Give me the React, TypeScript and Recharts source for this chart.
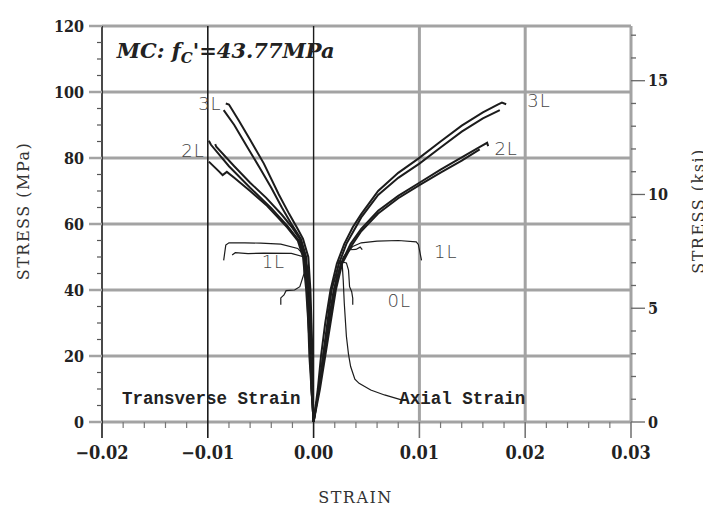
import React from 'react';
import { ComposedChart, Line, XAxis, YAxis, ReferenceLine, ReferenceDot } from 'recharts';

/* -------------------------------------------------------
   DATA  (strain, stress MPa)
-------------------------------------------------------- */
type Pair = [number, number];

// axial strain side
const axial3La: Pair[] = [[0, 0], [0.0004, 10], [0.0007, 20], [0.0011, 30], [0.0016, 40], [0.0022, 48], [0.0029, 54], [0.0037, 59], [0.0045, 63], [0.0061, 70], [0.008, 75.5], [0.0099, 79.8], [0.012, 85], [0.014, 89.8], [0.016, 93.8], [0.0174, 96.2], [0.0178, 96.8], [0.0182, 96.3]];
const axial3Lb: Pair[] = [[0, 0], [0.0005, 10], [0.0009, 20], [0.0013, 30], [0.0017, 40], [0.0024, 48], [0.0031, 54], [0.0045, 62], [0.0061, 68.8], [0.008, 74], [0.01, 78.3], [0.012, 83.2], [0.014, 88], [0.016, 92], [0.0176, 94.5]];
const axial2La: Pair[] = [[0, 0], [0.0005, 10], [0.0009, 20], [0.0014, 30], [0.0019, 40], [0.0026, 48], [0.0035, 54], [0.0045, 58.5], [0.0061, 64], [0.008, 68.5], [0.01, 72.5], [0.012, 76.5], [0.014, 80.2], [0.0158, 83.5], [0.0164, 84.6], [0.0165, 83.6]];
const axial2Lb: Pair[] = [[0, 0], [0.0006, 10], [0.0011, 20], [0.0016, 30], [0.0021, 40], [0.0027, 48], [0.0036, 53.5], [0.0045, 57.8], [0.0061, 63.2], [0.008, 67.8], [0.01, 71.8], [0.012, 75.6], [0.014, 79.2], [0.0157, 82.6]];
const axial1La: Pair[] = [[0, 0], [0.0005, 10], [0.001, 20], [0.0015, 30], [0.002, 40], [0.0025, 46.5], [0.003, 50.5], [0.0037, 53.2], [0.0045, 54.3], [0.006, 54.8], [0.008, 55], [0.0097, 54.6], [0.0099, 53.8], [0.0102, 49]];
const axial1Lb: Pair[] = [[0, 0], [0.0005, 10], [0.001, 20], [0.0015, 30], [0.002, 40], [0.0024, 46], [0.0028, 50], [0.0034, 52.2], [0.004, 52.3], [0.0044, 53], [0.0046, 52.2]];
const axial0L: Pair[] = [[0, 0], [0.0005, 10], [0.001, 20], [0.0015, 30], [0.002, 40], [0.0026, 48.6], [0.0031, 48.2], [0.0033, 46], [0.0034, 41], [0.0036, 39.5], [0.0037, 37.5], [0.0037, 35.5]];
const axialUnload: Pair[] = [[0, 0], [0.0005, 10], [0.001, 20], [0.0015, 30], [0.002, 41], [0.0024, 48.8], [0.0027, 48], [0.0028, 43], [0.0029, 36], [0.0031, 26], [0.0033, 20.5], [0.0035, 16.8], [0.0039, 13], [0.0043, 11.7], [0.0054, 9.7], [0.0067, 8.2], [0.0083, 6.7]];

// transverse strain side
const trans3La: Pair[] = [[0, 0], [-0.0001, 10], [-0.0001, 20], [-0.0002, 30], [-0.0003, 40], [-0.0005, 50], [-0.001, 55.5], [-0.0015, 58.5], [-0.0023, 63], [-0.0033, 69], [-0.0047, 78.3], [-0.006, 85.5], [-0.0071, 91.5], [-0.008, 96.2], [-0.0083, 96.5]];
const trans3Lb: Pair[] = [[0, 0], [-0.0001, 10], [-0.0002, 20], [-0.0003, 30], [-0.0005, 40], [-0.0007, 50], [-0.0012, 55.5], [-0.002, 59.5], [-0.003, 65], [-0.004, 71], [-0.005, 76.5], [-0.0063, 83.5], [-0.0075, 90], [-0.0085, 94.5]];
const trans2La: Pair[] = [[0, 0], [-0.0002, 10], [-0.0003, 20], [-0.0004, 30], [-0.0005, 40], [-0.0008, 50], [-0.0013, 55.5], [-0.002, 58.8], [-0.003, 62.8], [-0.0045, 68], [-0.006, 72.5], [-0.0075, 77.5], [-0.0092, 83.4], [-0.0093, 84.2]];
const trans2Lb: Pair[] = [[0, 0], [-0.0002, 10], [-0.0003, 20], [-0.0005, 30], [-0.0006, 40], [-0.0009, 50], [-0.0014, 55], [-0.0025, 59.5], [-0.004, 64.8], [-0.006, 71], [-0.008, 77.5], [-0.0097, 84], [-0.0099, 85.2]];
const trans2Lc: Pair[] = [[0, 0], [-0.0002, 10], [-0.0004, 20], [-0.0005, 30], [-0.0007, 40], [-0.001, 50], [-0.0015, 55], [-0.0025, 59], [-0.0044, 65.5], [-0.006, 70], [-0.0075, 74], [-0.0082, 75.8], [-0.0086, 74.8], [-0.0089, 75.8], [-0.0099, 78.9]];
const trans1La: Pair[] = [[0, 0], [-0.0001, 10], [-0.0002, 20], [-0.0003, 30], [-0.0004, 40], [-0.0006, 47], [-0.0009, 50.5], [-0.0015, 52.6], [-0.0031, 53.9], [-0.005, 54.2], [-0.0065, 54.3], [-0.008, 54.3], [-0.0083, 53.6], [-0.0085, 49]];
const trans1Lb: Pair[] = [[0, 0], [-0.0001, 10], [-0.0002, 20], [-0.0003, 30], [-0.0004, 40], [-0.0005, 46], [-0.0009, 50], [-0.0021, 51.1], [-0.0047, 51.2], [-0.0062, 51], [-0.0074, 51.3], [-0.0077, 50.6]];
const trans0L: Pair[] = [[0, 0], [-0.0001, 10], [-0.0002, 20], [-0.0003, 30], [-0.0004, 40], [-0.0006, 46], [-0.0008, 49], [-0.0009, 47], [-0.0009, 45], [-0.0013, 41], [-0.0018, 40], [-0.0026, 39.8], [-0.0028, 38.5], [-0.0031, 37.6], [-0.0031, 35.5]];

const heavyCurves = [axial3La, axial3Lb, axial2La, axial2Lb, trans3La, trans3Lb, trans2La, trans2Lb, trans2Lc];
const thinCurves = [axial1La, axial1Lb, axial0L, axialUnload, trans1La, trans1Lb, trans0L];

// ticks
const xTicks = [-0.02, -0.018, -0.016, -0.014, -0.012, -0.01, -0.008, -0.006, -0.004, -0.002, 0, 0.002, 0.004, 0.006, 0.008, 0.01, 0.012, 0.014, 0.016, 0.018, 0.02, 0.022, 0.024, 0.026, 0.028, 0.03];
const mpaTicks = [0, 5, 10, 15, 20, 25, 30, 35, 40, 45, 50, 55, 60, 65, 70, 75, 80, 85, 90, 95, 100, 105, 110, 115, 120];
const ksiTicks = [0, 1, 2, 3, 4, 5, 6, 7, 8, 9, 10, 11, 12, 13, 14, 15, 16, 17];
const gridMpa = [20, 40, 60, 80, 100, 120];
const MPA_PER_KSI = 6.894757;

// curve tags [label, strain, stress]
const curveTags: [string, number, number][] = [
  ['3L', -0.0098, 94.5],
  ['2L', -0.0114, 80.3],
  ['1L', -0.0038, 46.7],
  ['0L', 0.0081, 34.8],
  ['1L', 0.0125, 49.7],
  ['3L', 0.0213, 95.5],
  ['2L', 0.0182, 80.9],
];

const GRAY = '#a3a3a3';
const INK = '#1c1c1c';
const TICK_FONT = "'DejaVu Serif Condensed', 'DejaVu Serif', serif";

const toPts = (arr: Pair[]) => arr.map(([x, y]) => ({ x, y }));

/* -------------------------------------------------------
   TICKS
-------------------------------------------------------- */
const XTick = (props: any) => {
  const { x, y, payload } = props;
  const v = payload.value as number;
  const major = Math.abs(v * 100 - Math.round(v * 100)) < 1e-6;
  const dark = major && v <= 0.0001;
  const label = Math.abs(v) < 1e-9 ? '0.00' : v < 0 ? '\u2212' + Math.abs(v).toFixed(2) : v.toFixed(2);
  return (
    <g>
      <line x1={x} x2={x} y1={y} y2={y + (major ? 16 : 6)} stroke={dark ? INK : '#777'} strokeWidth={major ? 1.6 : 1.2} />
      {major && (
        <text x={x} y={y + 37} textAnchor="middle" fontFamily={TICK_FONT} fontWeight="bold" fontSize={18} fill="#222">
          {label}
        </text>
      )}
    </g>
  );
};

const MpaTick = (props: any) => {
  const { x, y, payload } = props;
  const v = payload.value as number;
  const major = v % 20 === 0;
  return (
    <g>
      <line x1={x - (major ? 13 : 5)} x2={x} y1={y} y2={y} stroke={major ? GRAY : '#555'} strokeWidth={major ? 2.5 : 1.2} />
      {major && (
        <text x={x - 18} y={y} dy="0.36em" textAnchor="end" fontFamily={TICK_FONT} fontWeight="bold" fontSize={16} fill="#222">
          {v}
        </text>
      )}
    </g>
  );
};

const KsiTick = (props: any) => {
  const { x, y, payload } = props;
  const v = payload.value as number;
  const major = v % 5 === 0;
  return (
    <g>
      <line x1={x} x2={x + (major ? 14 : 5)} y1={y} y2={y} stroke="#666" strokeWidth={1.3} />
      {major && (
        <text x={x + 17} y={y} dy="0.36em" textAnchor="start" fontFamily={TICK_FONT} fontWeight="bold" fontSize={16} fill="#222">
          {v}
        </text>
      )}
    </g>
  );
};

/* -------------------------------------------------------
   LABELS
-------------------------------------------------------- */
const TITLE_STYLE = { fontFamily: "'DejaVu Serif', serif", fontSize: 16, letterSpacing: 1.5, fill: '#333' };

const LeftTitle = ({ viewBox }: any) => {
  const cx = viewBox.x + 15.5;
  const cy = viewBox.y + viewBox.height / 2 - 13;
  return (
    <text x={cx} y={cy} transform={`rotate(-90 ${cx} ${cy})`} textAnchor="middle" dominantBaseline="central" {...TITLE_STYLE}>
      STRESS (MPa)
    </text>
  );
};

const RightTitle = ({ viewBox }: any) => {
  const cx = viewBox.x + 67;
  const cy = viewBox.y + viewBox.height / 2 - 13;
  return (
    <text x={cx} y={cy} transform={`rotate(-90 ${cx} ${cy})`} textAnchor="middle" dominantBaseline="central" {...TITLE_STYLE}>
      STRESS (ksi)
    </text>
  );
};

const BottomTitle = ({ viewBox }: any) => (
  <text x={viewBox.x + viewBox.width / 2 - 11} y={viewBox.y + 81} textAnchor="middle" {...TITLE_STYLE}>
    STRAIN
  </text>
);

const tagShape = (text: string) => (p: any) => (
  <text x={p.cx} y={p.cy} textAnchor="middle" fontFamily="'DejaVu Sans', sans-serif" fontWeight={300} fontSize={18} letterSpacing={1} fill="#444">
    {text}
  </text>
);

const monoShape = (text: string) => (p: any) => (
  <text x={p.cx} y={p.cy} textAnchor="start" fontFamily="'Liberation Mono', monospace" fontWeight="bold" fontSize={17.5} fill="#222" xmlSpace="preserve">
    {text}
  </text>
);

const headerShape = (p: any) => (
  <text x={p.cx} y={p.cy} textAnchor="start" fontFamily="'DejaVu Serif', serif" fontStyle="italic" fontWeight="bold" fontSize={21} fill="#222">
    MC:  f
    <tspan fontSize={15} dy={5}>C</tspan>
    <tspan dy={-5}>'=43.77MPa</tspan>
  </text>
);

/* -------------------------------------------------------
   COMPONENT
-------------------------------------------------------- */
const App: React.FC = () => {
  return (
    <div style={{ width: 703, height: 499 }}>
      <style>{'html,body{overflow:hidden}'}</style>
      <ComposedChart width={703} height={499} margin={{ top: 18, right: 0, bottom: 0, left: 0 }}>
        <XAxis
          type="number"
          dataKey="x"
          domain={[-0.02, 0.03]}
          ticks={xTicks}
          interval={0}
          allowDataOverflow
          height={85}
          tickSize={0}
          tickMargin={0}
          axisLine={false}
          tickLine={false}
          tick={<XTick />}
          label={<BottomTitle />}
        />
        <YAxis
          yAxisId="mpa"
          type="number"
          dataKey="y"
          domain={[0, 120]}
          ticks={mpaTicks}
          interval={0}
          allowDataOverflow
          width={94}
          tickSize={0}
          tickMargin={0}
          axisLine={false}
          tickLine={false}
          tick={<MpaTick />}
          label={<LeftTitle />}
        />
        <YAxis
          yAxisId="ksi"
          orientation="right"
          type="number"
          domain={[0, 120 / MPA_PER_KSI]}
          ticks={ksiTicks}
          interval={0}
          allowDataOverflow
          width={80}
          tickSize={0}
          tickMargin={0}
          axisLine={false}
          tickLine={false}
          tick={<KsiTick />}
          label={<RightTitle />}
        />

        {/* frame and grid */}
        {gridMpa.map(v => (
          <ReferenceLine key={`g${v}`} yAxisId="mpa" y={v} stroke={GRAY} strokeWidth={3} />
        ))}
        <ReferenceLine yAxisId="mpa" y={0} stroke={GRAY} strokeWidth={3} />
        <ReferenceLine yAxisId="mpa" x={0.01} stroke={GRAY} strokeWidth={3} />
        <ReferenceLine yAxisId="mpa" x={0.02} stroke={GRAY} strokeWidth={3} />
        <ReferenceLine yAxisId="mpa" x={0.03} stroke={GRAY} strokeWidth={3} />
        <ReferenceLine yAxisId="mpa" x={-0.02} stroke={INK} strokeWidth={1.6} />
        <ReferenceLine yAxisId="mpa" x={-0.01} stroke={INK} strokeWidth={1.6} />
        <ReferenceLine yAxisId="mpa" x={0} stroke={INK} strokeWidth={1.4} />

        {heavyCurves.map((c, i) => (
          <Line
            key={`h${i}`}
            yAxisId="mpa"
            data={toPts(c)}
            dataKey="y"
            type="linear"
            dot={false}
            activeDot={false}
            stroke={INK}
            strokeWidth={2}
            isAnimationActive={false}
          />
        ))}
        {thinCurves.map((c, i) => (
          <Line
            key={`t${i}`}
            yAxisId="mpa"
            data={toPts(c)}
            dataKey="y"
            type="linear"
            dot={false}
            activeDot={false}
            stroke={INK}
            strokeWidth={1.2}
            isAnimationActive={false}
          />
        ))}

        {curveTags.map(([t, x, y], i) => (
          <ReferenceDot key={`tag${i}`} yAxisId="mpa" x={x} y={y} r={0} shape={tagShape(t)} />
        ))}
        <ReferenceDot yAxisId="mpa" x={-0.0181} y={5.6} r={0} shape={monoShape('Transverse Strain')} />
        <ReferenceDot yAxisId="mpa" x={0.0081} y={5.6} r={0} shape={monoShape('Axial Strain')} />
        <ReferenceDot yAxisId="mpa" x={-0.0186} y={110.3} r={0} shape={headerShape} />
      </ComposedChart>
    </div>
  );
};

export default App;
